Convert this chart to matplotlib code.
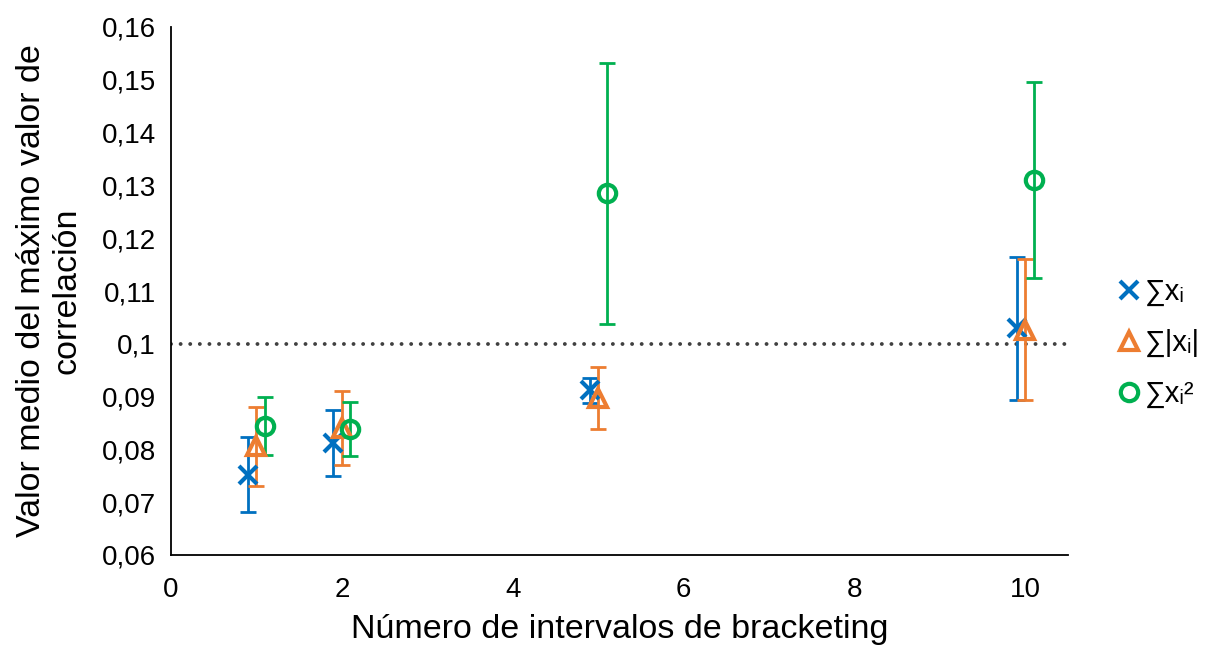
import numpy as np
import matplotlib.pyplot as plt

plt.rcParams['font.family'] = ['Liberation Sans', 'DejaVu Sans']

# Número de intervalos y valores medios con su desviación
intervalos = [1, 2, 5, 10]

media_sum = [0.0752, 0.0812, 0.0912, 0.1029]
err_sum = [0.0071, 0.0063, 0.0024, 0.0135]

media_abs = [0.0806, 0.0840, 0.0897, 0.1027]
err_abs = [0.0075, 0.0070, 0.0059, 0.0134]

media_sq = [0.0844, 0.0839, 0.1285, 0.1310]
err_sq = [0.0055, 0.0051, 0.0247, 0.0185]

etiquetas = ['∑xᵢ', '∑|xᵢ|', '∑xᵢ²']
colores = ['#0070C0', '#ED7D31', '#00B050']
marcadores = ['x', '^', 'o']
desplazamiento = [-0.1, 0.0, 0.1]

fig = plt.figure(figsize=(12.18, 6.49), dpi=100)
ax = fig.add_axes([171 / 1218, 1 - 555 / 649, (1068 - 171) / 1218, (555 - 27) / 649])

series = [(media_sum, err_sum), (media_abs, err_abs), (media_sq, err_sq)]
for (m, e), lab, col, mk, dx in zip(series, etiquetas, colores, marcadores, desplazamiento):
    x = np.array(intervalos) + dx
    ax.errorbar(x, m, yerr=e, fmt='none', ecolor=col, elinewidth=2,
                capsize=5.5, capthick=2, zorder=2)
    ax.plot(x, m, linestyle='none', marker=mk, markersize=12.5,
            markerfacecolor='none' if mk != 'x' else col,
            markeredgecolor=col, markeredgewidth=3, label=lab, zorder=3)

# Línea de referencia en 0,1 (puntos redondos)
ax.axhline(0.1, color='#404040', linestyle=(0, (0.01, 2.46)), linewidth=2.8,
           dash_capstyle='round', zorder=1)

ax.set_xlim(0, 10.5)
ax.set_ylim(0.06, 0.16)
ax.set_xticks([0, 2, 4, 6, 8, 10])
yt = np.round(np.arange(0.06, 0.1601, 0.01), 2)
ax.set_yticks(yt)
ax.set_yticklabels([f'{v:g}'.replace('.', ',') for v in yt])
ax.tick_params(length=0, labelsize=20)
ax.tick_params(axis='y', pad=11)
ax.tick_params(axis='x', pad=16)

for s in ['top', 'right']:
    ax.spines[s].set_visible(False)
for s in ['left', 'bottom']:
    ax.spines[s].set_linewidth(1.3)

ax.set_xlabel('Número de intervalos de bracketing', fontsize=24.5, labelpad=8)
ax.set_ylabel('Valor medio del máximo valor de\ncorrelación', fontsize=24.5,
              labelpad=14, linespacing=1.15)

ax.legend(loc='center left', bbox_to_anchor=(1.045, 0.4015), frameon=False,
          fontsize=21, handlelength=0.6, handletextpad=0.25, labelspacing=0.78,
          borderaxespad=0)

fig.savefig('out.png', dpi=100)
